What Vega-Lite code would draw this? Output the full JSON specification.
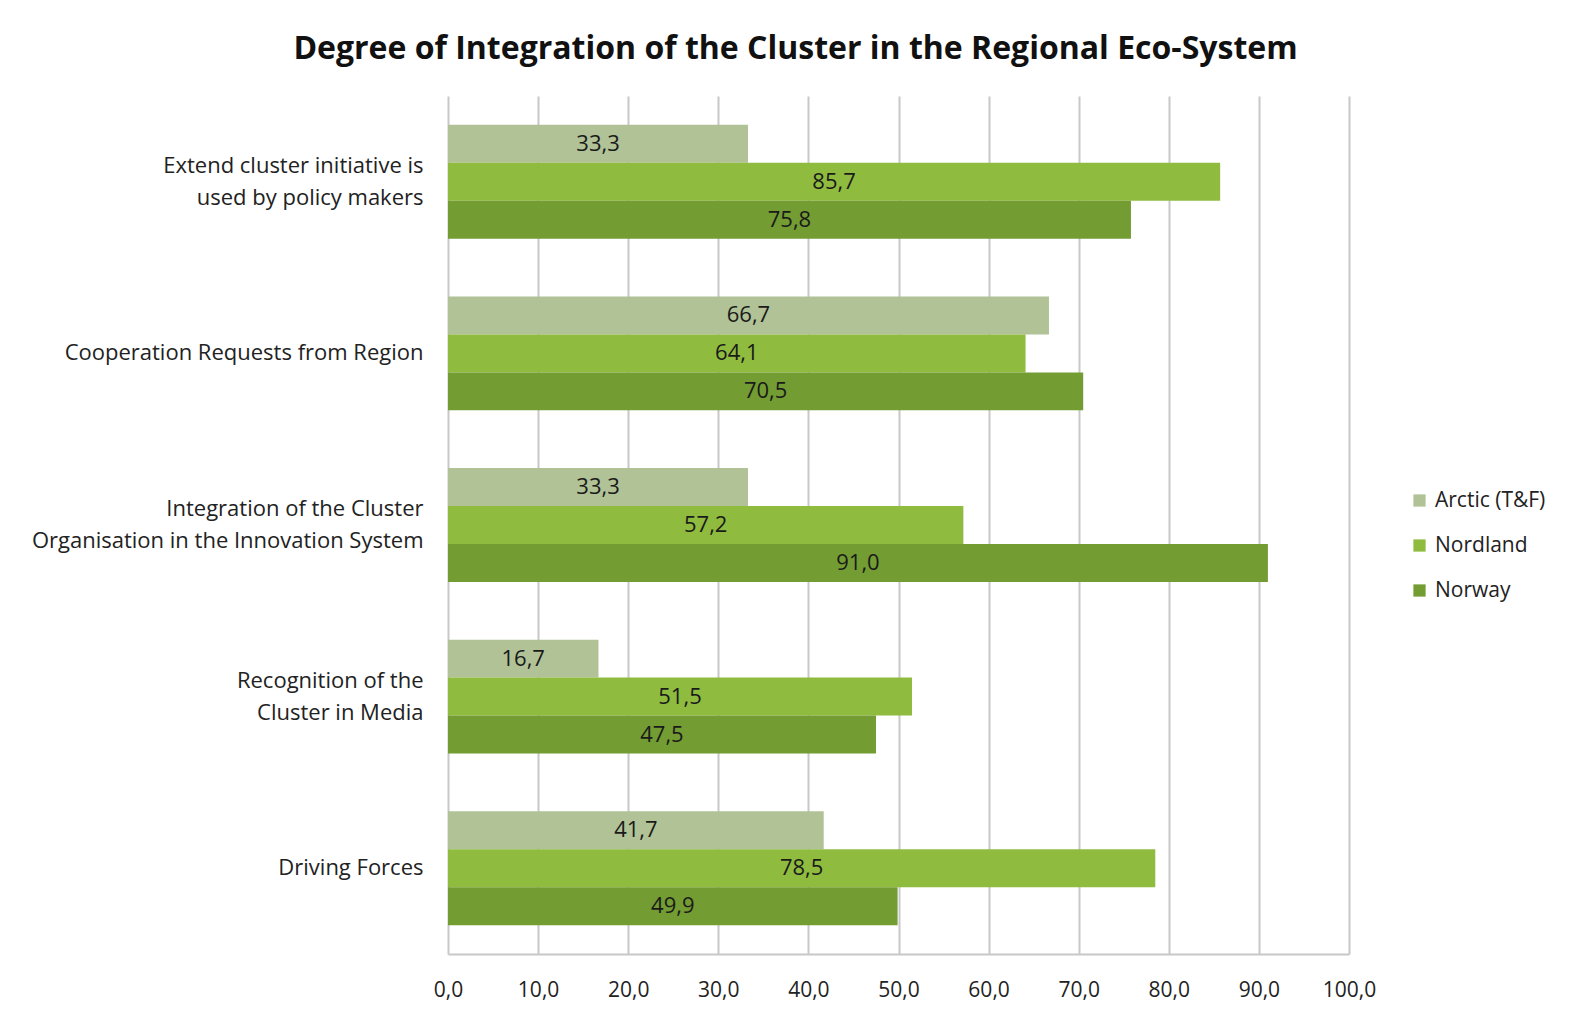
{
  "$schema": "https://vega.github.io/schema/vega-lite/v6.json",
  "autosize": {"type": "none"},
  "width": 901,
  "height": 858,
  "padding": {"left": 448, "top": 96, "right": 238, "bottom": 58},
  "background": "white",
  "config": {
    "font": "Open Sans",
    "locale": {"number": {"decimal": ",", "thousands": ".", "grouping": [3], "currency": ["", " €"]}},
    "view": {"stroke": null}
  },
  "title": {
    "text": "Degree of Integration of the Cluster in the Regional Eco-System",
    "font": "Open Sans",
    "fontSize": 32,
    "fontWeight": "bold",
    "color": "#111111",
    "anchor": "middle",
    "frame": "group",
    "dx": -103,
    "offset": 30
  },
  "data": {
    "values": [
      {"category": "Extend cluster initiative is used by policy makers", "series": "Arctic (T&F)", "value": 33.3},
      {"category": "Extend cluster initiative is used by policy makers", "series": "Nordland", "value": 85.7},
      {"category": "Extend cluster initiative is used by policy makers", "series": "Norway", "value": 75.8},
      {"category": "Cooperation Requests from Region", "series": "Arctic (T&F)", "value": 66.7},
      {"category": "Cooperation Requests from Region", "series": "Nordland", "value": 64.1},
      {"category": "Cooperation Requests from Region", "series": "Norway", "value": 70.5},
      {"category": "Integration of the Cluster Organisation in the Innovation System", "series": "Arctic (T&F)", "value": 33.3},
      {"category": "Integration of the Cluster Organisation in the Innovation System", "series": "Nordland", "value": 57.2},
      {"category": "Integration of the Cluster Organisation in the Innovation System", "series": "Norway", "value": 91.0},
      {"category": "Recognition of the Cluster in Media", "series": "Arctic (T&F)", "value": 16.7},
      {"category": "Recognition of the Cluster in Media", "series": "Nordland", "value": 51.5},
      {"category": "Recognition of the Cluster in Media", "series": "Norway", "value": 47.5},
      {"category": "Driving Forces", "series": "Arctic (T&F)", "value": 41.7},
      {"category": "Driving Forces", "series": "Nordland", "value": 78.5},
      {"category": "Driving Forces", "series": "Norway", "value": 49.9}
    ]
  },
  "transform": [{"calculate": "datum.value / 2", "as": "mid"}],
  "encoding": {
    "y": {
      "field": "category",
      "type": "nominal",
      "sort": [
        "Extend cluster initiative is used by policy makers",
        "Cooperation Requests from Region",
        "Integration of the Cluster Organisation in the Innovation System",
        "Recognition of the Cluster in Media",
        "Driving Forces"
      ],
      "scale": {"paddingInner": 0.336, "paddingOuter": 0.168},
      "axis": {
        "title": null,
        "domain": false,
        "ticks": false,
        "labelPadding": 25,
        "labelFontSize": 22,
        "labelColor": "#222222",
        "labelFont": "Open Sans",
        "labelLimit": 500,
        "labelLineHeight": 32,
        "labelOffset": {"condition": {"test": "datum.value == 'Driving Forces' || datum.value == 'Cooperation Requests from Region'", "value": 0}, "value": -16},
        "labelExpr": "datum.value == 'Extend cluster initiative is used by policy makers' ? ['Extend cluster initiative is', 'used by policy makers'] : datum.value == 'Integration of the Cluster Organisation in the Innovation System' ? ['Integration of the Cluster', 'Organisation in the Innovation System'] : datum.value == 'Recognition of the Cluster in Media' ? ['Recognition of the', 'Cluster in Media'] : datum.value"
      }
    },
    "yOffset": {
      "field": "series",
      "type": "nominal",
      "sort": ["Arctic (T&F)", "Nordland", "Norway"],
      "scale": {"paddingInner": 0, "paddingOuter": 0}
    }
  },
  "layer": [
    {
      "mark": {"type": "bar"},
      "encoding": {
        "x": {
          "field": "value",
          "type": "quantitative",
          "scale": {"domain": [0, 100], "nice": false},
          "axis": {
            "title": null,
            "values": [0, 10, 20, 30, 40, 50, 60, 70, 80, 90, 100],
            "format": ".1f",
            "grid": true,
            "gridColor": "#c8c8c8",
            "gridWidth": 2,
            "domain": true,
            "domainColor": "#c8c8c8",
            "domainWidth": 2,
            "ticks": false,
            "labelFlush": false,
            "labelPadding": 25,
            "labelFontSize": 21,
            "labelColor": "#222222",
            "labelFont": "Open Sans"
          }
        },
        "color": {
          "field": "series",
          "type": "nominal",
          "sort": ["Arctic (T&F)", "Nordland", "Norway"],
          "scale": {"domain": ["Arctic (T&F)", "Nordland", "Norway"], "range": ["#b0c296", "#8fbc3f", "#739c33"]},
          "legend": {
            "title": null,
            "orient": "none",
            "legendX": 961,
            "legendY": 394,
            "symbolType": "square",
            "symbolSize": 150,
            "symbolStrokeWidth": 0,
            "labelFontSize": 21,
            "labelColor": "#222222",
            "labelFont": "Open Sans",
            "rowPadding": 23,
            "labelOffset": 5
          }
        }
      }
    },
    {
      "mark": {"type": "text", "fontSize": 22, "color": "#1a1a1a", "align": "center", "baseline": "middle", "font": "Open Sans"},
      "encoding": {
        "x": {"field": "mid", "type": "quantitative"},
        "text": {"field": "value", "type": "quantitative", "format": ".1f"}
      }
    }
  ]
}
